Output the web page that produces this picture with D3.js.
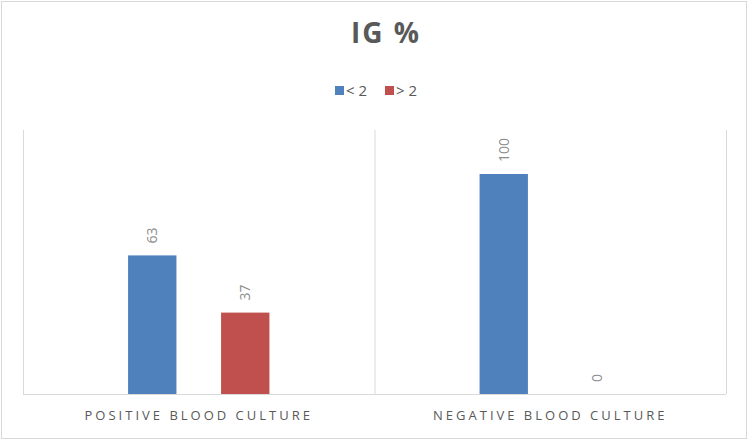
<!DOCTYPE html>
<html>
<head>
<meta charset="utf-8">
<script src="https://cdn.jsdelivr.net/npm/d3@7"></script>
<style>
  body { margin: 0; background: #fff; }
  text { font-family: "Open Sans", "Noto Sans", sans-serif; }
</style>
</head>
<body>
<svg id="chart" width="750" height="442"></svg>
<script>
// data
const categories = ["POSITIVE BLOOD CULTURE", "NEGATIVE BLOOD CULTURE"];
const seriesNames = ["< 2", "> 2"];
const lessThan2 = [63, 100];
const moreThan2 = [37, 0];
const colors = ["#4f81bd", "#c0504d"];

let svg = d3.select("#chart");
let margin = {top: 130, right: 24, bottom: 48, left: 23};
let width = +svg.attr("width") - margin.left - margin.right;
let height = +svg.attr("height") - margin.top - margin.bottom;

// outer border
svg.append("rect")
    .attr("x", 1.5).attr("y", 1.5)
    .attr("width", 745).attr("height", 437)
    .attr("fill", "#fff")
    .attr("stroke", "#d9d9d9");

// title
svg.append("text")
    .attr("x", 386).attr("y", 43)
    .attr("text-anchor", "middle")
    .attr("font-size", 28)
    .attr("font-weight", "bold")
    .attr("letter-spacing", "2px")
    .attr("fill", "#595959")
    .text("IG %");

let g = svg.append("g").attr("transform", `translate(${margin.left}, ${margin.top})`);

let groupX = d3.scaleBand().domain(categories).range([0, width]);
// inner scale: two bars, gap between them about the width of a bar
let withinX = d3.scaleBand().domain(seriesNames)
    .range([0, groupX.bandwidth()])
    .paddingInner(0.48)
    .paddingOuter(1.13);
let y = d3.scaleLinear().domain([0, 120]).range([height, 0]);

// category separators
let seps = [0, ...categories.map(c => groupX(c) + groupX.bandwidth())];
g.selectAll("line.sep")
    .data(seps)
    .enter().append("line")
    .attr("class", "sep")
    .attr("x1", d => d + 0.5).attr("x2", d => d + 0.5)
    .attr("y1", 0).attr("y2", height)
    .attr("stroke", "#d9d9d9");

let rows = categories.map((c, i) => ({cat: c, vals: [lessThan2[i], moreThan2[i]]}));

let groups = g.append("g")
    .selectAll("g")
    .data(rows)
    .enter().append("g")
    .attr("transform", d => `translate(${groupX(d.cat)}, 0)`);

let bars = groups.selectAll("g")
    .data(d => d.vals.map((v, j) => ({name: seriesNames[j], v, j})))
    .enter().append("g");

bars.append("rect")
    .attr("x", d => withinX(d.name))
    .attr("y", d => y(d.v))
    .attr("width", withinX.bandwidth())
    .attr("height", d => height - y(d.v))
    .attr("fill", d => colors[d.j]);

// rotated value labels
bars.append("text")
    .attr("transform", d => `translate(${withinX(d.name) + withinX.bandwidth() / 2 + 5}, ${y(d.v) - 12}) rotate(-90)`)
    .attr("font-size", 14)
    .attr("fill", "#8c8c8c")
    .text(d => d.v);

// baseline axis
g.append("line")
    .attr("x1", 0).attr("x2", width)
    .attr("y1", height + 0.5).attr("y2", height + 0.5)
    .attr("stroke", "#d9d9d9");

// category labels
g.selectAll("text.cat")
    .data(categories)
    .enter().append("text")
    .attr("class", "cat")
    .attr("x", d => groupX(d) + groupX.bandwidth() / 2)
    .attr("y", height + 26)
    .attr("text-anchor", "middle")
    .attr("font-size", 13)
    .attr("letter-spacing", "3px")
    .attr("fill", "#595959")
    .text(d => d);

// legend
let legend = svg.append("g").attr("transform", "translate(335, 86)");
let legendX = [0, 50];
seriesNames.forEach((s, i) => {
    legend.append("rect")
        .attr("x", legendX[i]).attr("y", 0)
        .attr("width", 9).attr("height", 9)
        .attr("fill", colors[i]);
    legend.append("text")
        .attr("x", legendX[i] + 11).attr("y", 10)
        .attr("font-size", 15)
        .attr("fill", "#595959")
        .text(s);
});
</script>
</body>
</html>
